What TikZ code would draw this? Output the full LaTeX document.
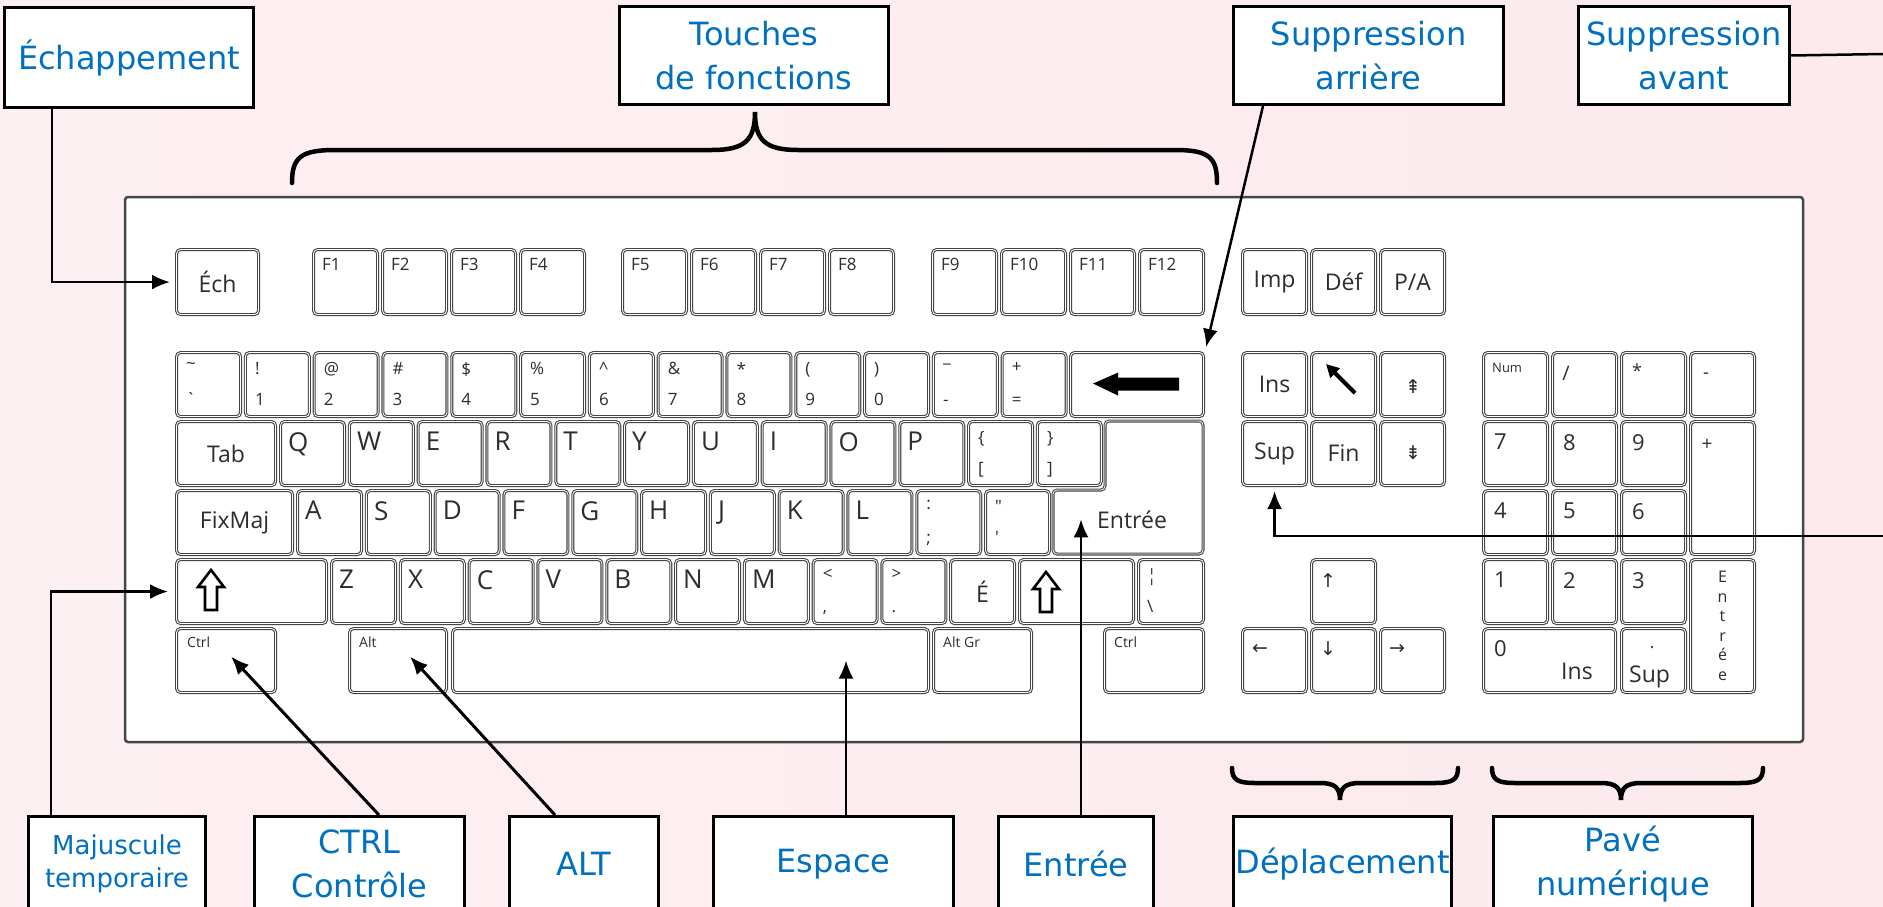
\documentclass[tikz,border=0pt]{standalone}
\usepackage{fontspec}
\setmainfont{Open Sans}
\newfontfamily\lblfont{DejaVu Sans}
\newfontfamily\symfont{DejaVu Sans}
\usepackage{tikz}
\usetikzlibrary{arrows.meta}
\tikzset{>=latex}
\definecolor{myblue}{RGB}{0, 112, 192}
\definecolor{keyline}{RGB}{70, 70, 70}
\definecolor{keytext}{RGB}{45, 45, 45}
\definecolor{mypink1}{RGB}{253, 240, 242}
\definecolor{mypink2}{RGB}{250, 221, 228}
\definecolor{mypink3}{RGB}{252, 234, 237}
\newcommand\shiftsym[2]{\draw[line width=2.6pt, line join=miter] (#1,#2) ++(0,-20) -- ++(13,17) -- ++(-7,0) -- ++(0,23) -- ++(-12,0) -- ++(0,-23) -- ++(-7,0) -- cycle;}

\begin{document}
\begin{tikzpicture}[
    x = 1pt, y = -1pt,
    keycap/.style = {draw=keyline, line width=1.1pt, double=white, double distance=0.8pt, rounded corners=4pt, fill=white, inner sep=0pt, minimum width=64, minimum height=64},
    ktxt/.style = {inner sep=0pt, text=keytext, font=\fontsize{17}{17}\selectfont},
    kbig/.style = {ktxt, font=\fontsize{26}{26}\selectfont},
    kmid/.style = {ktxt, font=\fontsize{23}{23}\selectfont},
    ksmall/.style = {ktxt, font=\fontsize{14}{14}\selectfont},
    ksym/.style = {ktxt, font=\symfont\fontsize{19}{19}\selectfont},
    lbl/.style = {draw, line width=3pt, fill=white, text=myblue, align=center, inner sep=0pt, anchor=north west, font=\lblfont\fontsize{32}{44}\selectfont},
    d0/.style = {line width=2.5pt},
    d1/.style = {line width=2.5pt, -{Latex[length=18pt, width=15pt]}},
    brace/.style = {line width=4.5pt, line cap=round}
]
\useasboundingbox (0,0) rectangle (1883,907);
\shade[left color=mypink1, middle color=mypink2, right color=mypink3] (0,0) rectangle (1883,907);

% keyboard
\draw[line width=2.5pt, keyline, fill=white, rounded corners=3pt] (125,197) rectangle (1803,742);

% function row
\node[keycap, minimum width=82, minimum height=65, anchor=north west] (kEsc) at (176,249) {};
\node[kmid] (tEsc) at (kEsc) {Éch};
\foreach \n/\xx in {1/313,2/382,3/451,4/520,5/622,6/691,7/760,8/829,9/932,10/1001,11/1070,12/1139} {
  \node[keycap, minimum height=65, anchor=north west] (kF\n) at (\xx,249) {};
  \node[ktxt, anchor=north west] (tF\n) at ([shift={(9,9)}]kF\n.north west) {F\n};
}

% number row
\foreach \up/\dn [count=\i from 0] in {\textasciitilde/\textasciigrave, !/1, @/2, \#/3, \$/4, \%/5, \textasciicircum/6, \&/7, */8, {(}/9, {)}/0, \_/-, +/=} {
  \node[keycap, anchor=north west] (kN\i) at (176+\i*68.8,352) {};
  \node[ktxt, anchor=north west] (uN\i) at ([shift={(10,10)}]kN\i.north west) {\up};
  \node[ktxt, anchor=base west] (dN\i) at ([shift={(10,-12)}]kN\i.south west) {\dn};
}
\node[keycap, minimum width=133, anchor=north west] (kBack) at (1070,352) {};
\fill ([shift={(-44,-1)}]kBack.center) -- ++(25,-11) -- ++(0,5) -- ++(61,0) -- ++(0,13) -- ++(-61,0) -- ++(0,5) -- cycle;

% tab row
\node[keycap, minimum width=99, anchor=north west] (kTab) at (176,421) {};
\node[kmid] (tTab) at (kTab) {Tab};
\foreach \c [count=\i from 0] in {Q,W,E,R,T,Y,U,I,O,P} {
  \node[keycap, anchor=north west] (kT\i) at (280+\i*68.8,421) {};
  \node[kbig, anchor=north west] (tT\i) at ([shift={(8,11)}]kT\i.north west) {\c};
}
\foreach \up/\dn [count=\i from 10] in {\{/[, \}/]} {
  \node[keycap, anchor=north west] (kT\i) at (280+\i*68.8,421) {};
  \node[ktxt, anchor=north west] (uT\i) at ([shift={(10,10)}]kT\i.north west) {\up};
  \node[ktxt, anchor=base west] (dT\i) at ([shift={(10,-12)}]kT\i.south west) {\dn};
}
\draw[keycap] (1105,421) -- (1203,421) -- (1203,554) -- (1053,554) -- (1053,490) -- (1105,490) -- cycle;
\node[kmid, anchor=base west] (tEnter) at (1097,528) {Entrée};

% caps row
\node[keycap, minimum width=116, anchor=north west] (kCaps) at (176,490) {};
\node[kmid] (tCaps) at (kCaps) {FixMaj};
\foreach \c [count=\i from 0] in {A,S,D,F,G,H,J,K,L} {
  \node[keycap, anchor=north west] (kC\i) at (297+\i*68.8,490) {};
  \node[kbig, anchor=north west] (tC\i) at ([shift={(8,11)}]kC\i.north west) {\c};
}
\foreach \up/\dn [count=\i from 9] in {:/;, \textquotedbl/\textquotesingle} {
  \node[keycap, anchor=north west] (kC\i) at (297+\i*68.8,490) {};
  \node[ktxt, anchor=north west] (uC\i) at ([shift={(10,10)}]kC\i.north west) {\up};
  \node[ktxt, anchor=base west] (dC\i) at ([shift={(10,-12)}]kC\i.south west) {\dn};
}

% shift row
\node[keycap, minimum width=150, anchor=north west] (kLShift) at (176,559) {};
\shiftsym{211}{590}
\foreach \c [count=\i from 0] in {Z,X,C,V,B,N,M} {
  \node[keycap, anchor=north west] (kS\i) at (331+\i*68.8,559) {};
  \node[kbig, anchor=north west] (tS\i) at ([shift={(8,11)}]kS\i.north west) {\c};
}
\foreach \up/\dn [count=\i from 7] in {</{,}, >/.} {
  \node[keycap, anchor=north west] (kS\i) at (331+\i*68.8,559) {};
  \node[ktxt, anchor=north west] (uS\i) at ([shift={(10,10)}]kS\i.north west) {\up};
  \node[ktxt, anchor=base west] (dS\i) at ([shift={(10,-12)}]kS\i.south west) {\dn};
}
\node[keycap, anchor=north west] (kS9) at (950,559) {};
\node[kmid] (tS9) at (kS9) {É};
\node[keycap, minimum width=114, anchor=north west] (kRShift) at (1019,559) {};
\shiftsym{1046}{592}
\node[keycap, minimum width=65, anchor=north west] (kPipe) at (1138,559) {};
\node[ktxt, anchor=north west] (uPipe) at ([shift={(9,9)}]kPipe.north west) {¦};
\node[ktxt, anchor=base west] (dPipe) at ([shift={(9,-12)}]kPipe.south west) {\textbackslash};

% bottom row
\node[keycap, minimum width=99, anchor=north west] (kLCtrl) at (176,628) {};
\node[ksmall, anchor=north west] (tLCtrl) at ([shift={(11,9)}]kLCtrl.north west) {Ctrl};
\node[keycap, minimum width=97, anchor=north west] (kAlt) at (349,628) {};
\node[ksmall, anchor=north west] (tAlt) at ([shift={(10,9)}]kAlt.north west) {Alt};
\node[keycap, minimum width=476, anchor=north west] (kSpace) at (452,628) {};
\node[keycap, minimum width=98, anchor=north west] (kAltGr) at (933,628) {};
\node[ksmall, anchor=north west] (tAltGr) at ([shift={(10,9)}]kAltGr.north west) {Alt Gr};
\node[keycap, minimum width=99, anchor=north west] (kRCtrl) at (1104,628) {};
\node[ksmall, anchor=north west] (tRCtrl) at ([shift={(10,9)}]kRCtrl.north west) {Ctrl};

% navigation
\node[keycap, minimum height=65, anchor=north west] (kPrt) at (1242,249) {};
\node[kmid] (tPrt) at (kPrt) {Imp};
\node[keycap, minimum height=65, anchor=north west] (kScr) at (1311,249) {};
\node[kmid] (tScr) at (kScr) {Déf};
\node[keycap, minimum height=65, anchor=north west] (kPause) at (1380,249) {};
\node[kmid] (tPause) at (kPause) {P/A};
\node[keycap, anchor=north west] (kIns) at (1242,352) {};
\node[kmid] (tIns) at (kIns) {Ins};
\node[keycap, anchor=north west] (kHome) at (1311,352) {};
\draw[line width=4pt, -{Triangle[length=13pt, width=13pt]}] ([shift={(44,41)}]kHome.north west) -- ([shift={(15,12)}]kHome.north west);
\node[keycap, anchor=north west] (kPgUp) at (1380,352) {};
\node[ksym] (tPgUp) at ([shift={(33,35)}]kPgUp.north west) {⇞};
\node[keycap, anchor=north west] (kDel) at (1242,421) {};
\node[kmid] (tDel) at (kDel) {Sup};
\node[keycap, anchor=north west] (kEnd) at (1311,421) {};
\node[kmid] (tEnd) at (kEnd) {Fin};
\node[keycap, anchor=north west] (kPgDn) at (1380,421) {};
\node[ksym] (tPgDn) at ([shift={(33,32)}]kPgDn.north west) {⇟};
\node[keycap, anchor=north west] (kUp) at (1311,559) {};
\node[ksym] (tUp) at ([shift={(17,22)}]kUp.north west) {↑};
\node[keycap, anchor=north west] (kLeft) at (1242,628) {};
\node[ksym] (tLeft) at ([shift={(18,21)}]kLeft.north west) {←};
\node[keycap, anchor=north west] (kDown) at (1311,628) {};
\node[ksym] (tDown) at ([shift={(17,21)}]kDown.north west) {↓};
\node[keycap, anchor=north west] (kRight) at (1380,628) {};
\node[ksym] (tRight) at ([shift={(17,21)}]kRight.north west) {→};

% numeric pad
\node[keycap, anchor=north west] (kNum) at (1483,352) {};
\node[ktxt, font=\fontsize{13}{13}\selectfont, anchor=north west] (tNum) at ([shift={(9,11)}]kNum.north west) {Num};
\node[keycap, anchor=north west] (kDiv) at (1552,352) {};
\node[ktxt, font=\fontsize{20}{20}\selectfont] (tDiv) at ([shift={(14,21)}]kDiv.north west) {/};
\node[keycap, anchor=north west] (kMul) at (1621,352) {};
\node[ktxt, font=\fontsize{18}{18}\selectfont] (tMul) at ([shift={(16,19)}]kMul.north west) {*};
\node[keycap, anchor=north west] (kSub) at (1690,352) {};
\node[ktxt, font=\fontsize{18}{18}\selectfont] (tSub) at ([shift={(16,24)}]kSub.north west) {-};
\foreach \c/\xx/\yy in {7/1483/421, 8/1552/421, 9/1621/421, 4/1483/490, 5/1552/490, 6/1621/490, 1/1483/559, 2/1552/559, 3/1621/559} {
  \node[keycap, anchor=north west] (kP\c) at (\xx,\yy) {};
  \node[ktxt, font=\fontsize{22}{22}\selectfont, anchor=north west] (tP\c) at ([shift={(11,13)}]kP\c.north west) {\c};
}
\node[keycap, minimum height=133, anchor=north west] (kAdd) at (1690,421) {};
\node[ktxt, font=\fontsize{19}{19}\selectfont] (tAdd) at ([shift={(17,24)}]kAdd.north west) {+};
\node[keycap, minimum height=133, anchor=north west] (kPEnter) at (1690,559) {};
\node[ktxt, align=center, font=\fontsize{16}{19.5}\selectfont] (tPEnter) at (kPEnter) {E\\n\\t\\r\\é\\e};
\node[keycap, minimum width=132, anchor=north west] (kP0) at (1483,628) {};
\node[ktxt, font=\fontsize{22}{22}\selectfont, anchor=north west] (tP0) at ([shift={(11,12)}]kP0.north west) {0};
\node[kmid, anchor=base west] (tP0b) at ([shift={(78,-14)}]kP0.south west) {Ins};
\node[keycap, anchor=north west] (kPDot) at (1621,628) {};
\node[ktxt] (tPDot) at ([shift={(31,20)}]kPDot.north west) {.};
\node[kmid, anchor=base west] (tPDotb) at ([shift={(8,-11)}]kPDot.south west) {Sup};

% braces
\draw[brace] (292,183) .. controls (292,158) and (300,150) .. (335,150) -- (712,150) .. controls (745,150) and (755,140) .. (755,112) .. controls (755,140) and (765,150) .. (798,150) -- (1175,150) .. controls (1210,150) and (1217,158) .. (1217,183);
\draw[brace] (1232,768) .. controls (1232,780) and (1238,783) .. (1255,783) -- (1320,783) .. controls (1335,783) and (1340,788) .. (1340,800) .. controls (1340,788) and (1345,783) .. (1360,783) -- (1435,783) .. controls (1452,783) and (1458,780) .. (1458,768);
\draw[brace] (1492,768) .. controls (1492,780) and (1498,783) .. (1515,783) -- (1601,783) .. controls (1616,783) and (1621,788) .. (1621,800) .. controls (1621,788) and (1626,783) .. (1641,783) -- (1740,783) .. controls (1757,783) and (1763,780) .. (1763,768);

% labels
\node[lbl, minimum width=249, minimum height=100] (lEsc) at (3,6) {Échappement};
\node[lbl, minimum width=269, minimum height=98] (lFn) at (618,5) {Touches\\de fonctions};
\node[lbl, minimum width=270, minimum height=98] (lBack) at (1232,5) {Suppression\\arrière};
\node[lbl, minimum width=211, minimum height=98] (lDel) at (1577,5) {Suppression\\avant};
\node[lbl, minimum width=177, minimum height=95, font=\lblfont\fontsize{26}{33}\selectfont] (lShift) at (27,815) {Majuscule\\temporaire};
\node[lbl, minimum width=210, minimum height=95] (lCtrl) at (253,815) {CTRL\\Contrôle};
\node[lbl, minimum width=149, minimum height=95] (lAlt) at (508,815) {ALT};
\node[lbl, minimum width=240, minimum height=95] (lSpace) at (712,815) {Espace};
\node[lbl, minimum width=155, minimum height=95] (lEnter) at (997,815) {Entrée};
\node[lbl, minimum width=218, minimum height=95] (lNav) at (1232,815) {Déplacement};
\node[lbl, minimum width=259, minimum height=95] (lPad) at (1492,815) {Pavé\\numérique};

% connectors
\coordinate (eR1) at (1883,54);
\coordinate (eR2) at (1883,536);
\coordinate (aSpace) at ([xshift=134pt]lSpace.north west);
\coordinate (aEnter) at ([xshift=84pt]lEnter.north west);
\draw[d1, shorten >=6pt] ([xshift=49pt]lEsc.south west) |- (kEsc.west);
\draw[d1] ([xshift=31pt]lBack.south west) -- ([shift={(2,-5)}]kBack.north east);
\draw[d0] (lDel.east) -- (eR1);
\draw[d1] (eR2) -| ([yshift=-5pt]kDel.south);
\draw[d1, shorten >=8pt] ([xshift=24pt]lShift.north west) |- (kLShift.west);
\draw[d1, line width=3pt] ([xshift=126pt]lCtrl.north west) -- ([shift={(5,-4)}]kLCtrl.center);
\draw[d1, line width=3pt] ([xshift=47pt]lAlt.north west) -- ([shift={(12,-4)}]kAlt.center);
\draw[d1] (aSpace) -- (aSpace |- kSpace.center);
\draw[d1] (aEnter) -- (aEnter |- tEnter.west);

\end{tikzpicture}
\end{document}
